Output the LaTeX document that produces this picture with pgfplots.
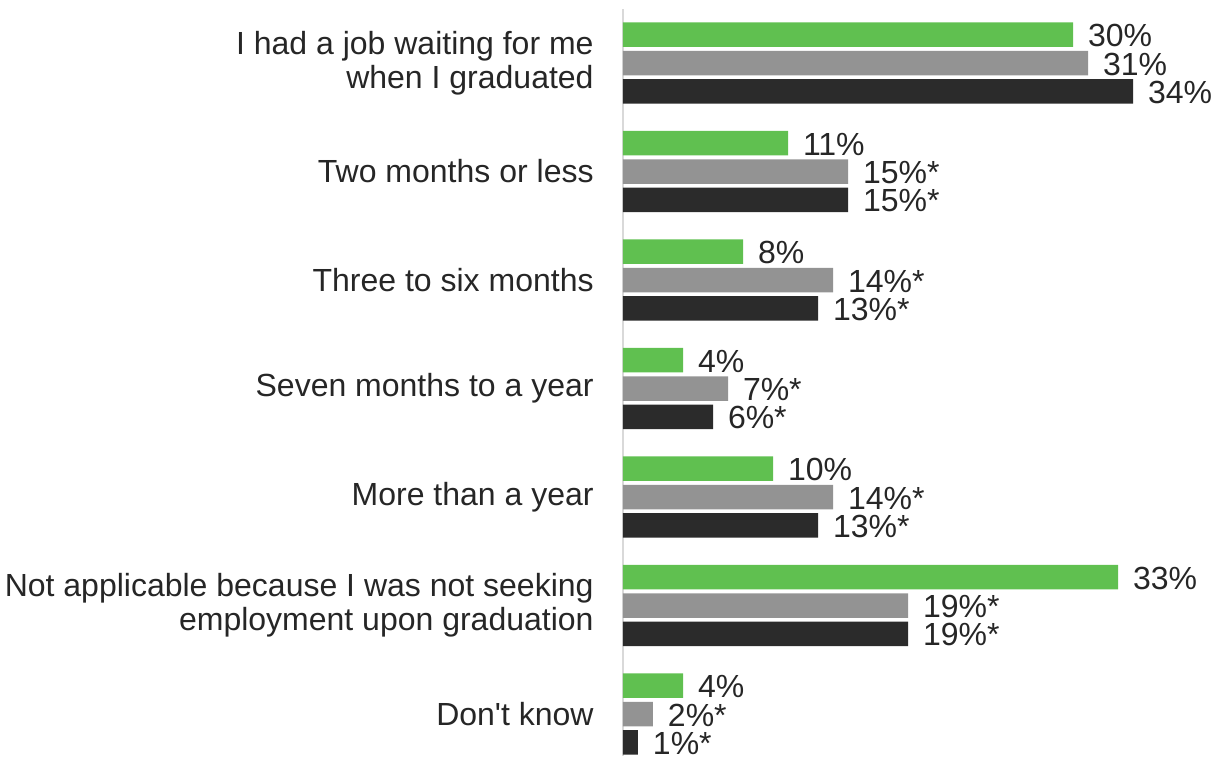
\documentclass[border=0pt]{standalone}
\usepackage{fontspec}
\setmainfont{Liberation Sans}
\usepackage{pgfplots}
\pgfplotsset{compat=1.18}

\definecolor{barGreen}{RGB}{96,192,80}
\definecolor{barGray}{RGB}{147,147,147}
\definecolor{barDark}{RGB}{43,43,43}
\definecolor{txt}{RGB}{38,38,38}
\definecolor{axisline}{RGB}{217,217,217}

\newcommand{\lblfont}{\fontsize{16}{16.9}\selectfont}

\begin{document}
\begin{tikzpicture}
\path[use as bounding box] (-311.5pt,4.5pt) rectangle (301pt,-373.5pt);
\begin{axis}[
    at={(0pt,0pt)}, anchor=north west,
    scale only axis,
    width=301pt, height=373.5pt,
    xmin=0, xmax=40.13,
    ymin=-0.4977, ymax=6.387,
    y dir=reverse,
    xbar, bar width=12.25pt,
    axis x line=none, axis y line=left,
    y axis line style={-, draw=axisline, line width=0.75pt},
    ytick={0,1,2,3,4,5,6},
    major tick length=0pt,
    yticklabels={
        {I had a job waiting for me\\when I graduated},
        {Two months or less},
        {Three to six months},
        {Seven months to a year},
        {More than a year},
        {Not applicable because I was not seeking\\employment upon graduation},
        {Don\textquotesingle t know}},
    yticklabel style={font=\lblfont, text=txt, align=right, inner sep=0pt, xshift=-14.5pt},
    nodes near coords,
    point meta=explicit symbolic,
    every node near coord/.append style={font=\lblfont, text=txt, anchor=west, inner sep=0pt, xshift=7.3pt, yshift=-0.5pt},
    clip=false,
]
% green
\addplot[fill=barGreen, draw=none, bar shift=0pt] table[x=v, y=p, meta=l] {
v p l
30 -0.261 30\%
11 0.739 11\%
8 1.739 8\%
4 2.739 4\%
10 3.739 10\%
33 4.739 33\%
4 5.739 4\%
};
% gray
\addplot[fill=barGray, draw=none, bar shift=0pt] table[x=v, y=p, meta=l] {
v p l
31 0 31\%
15 1 15\%*
14 2 14\%*
7 3 7\%*
14 4 14\%*
19 5 19\%*
2 6 2\%*
};
% dark
\addplot[fill=barDark, draw=none, bar shift=0pt] table[x=v, y=p, meta=l] {
v p l
34 0.261 34\%
15 1.261 15\%*
13 2.261 13\%*
6 3.261 6\%*
13 4.261 13\%*
19 5.261 19\%*
1 6.261 1\%*
};
\end{axis}
\end{tikzpicture}
\end{document}
